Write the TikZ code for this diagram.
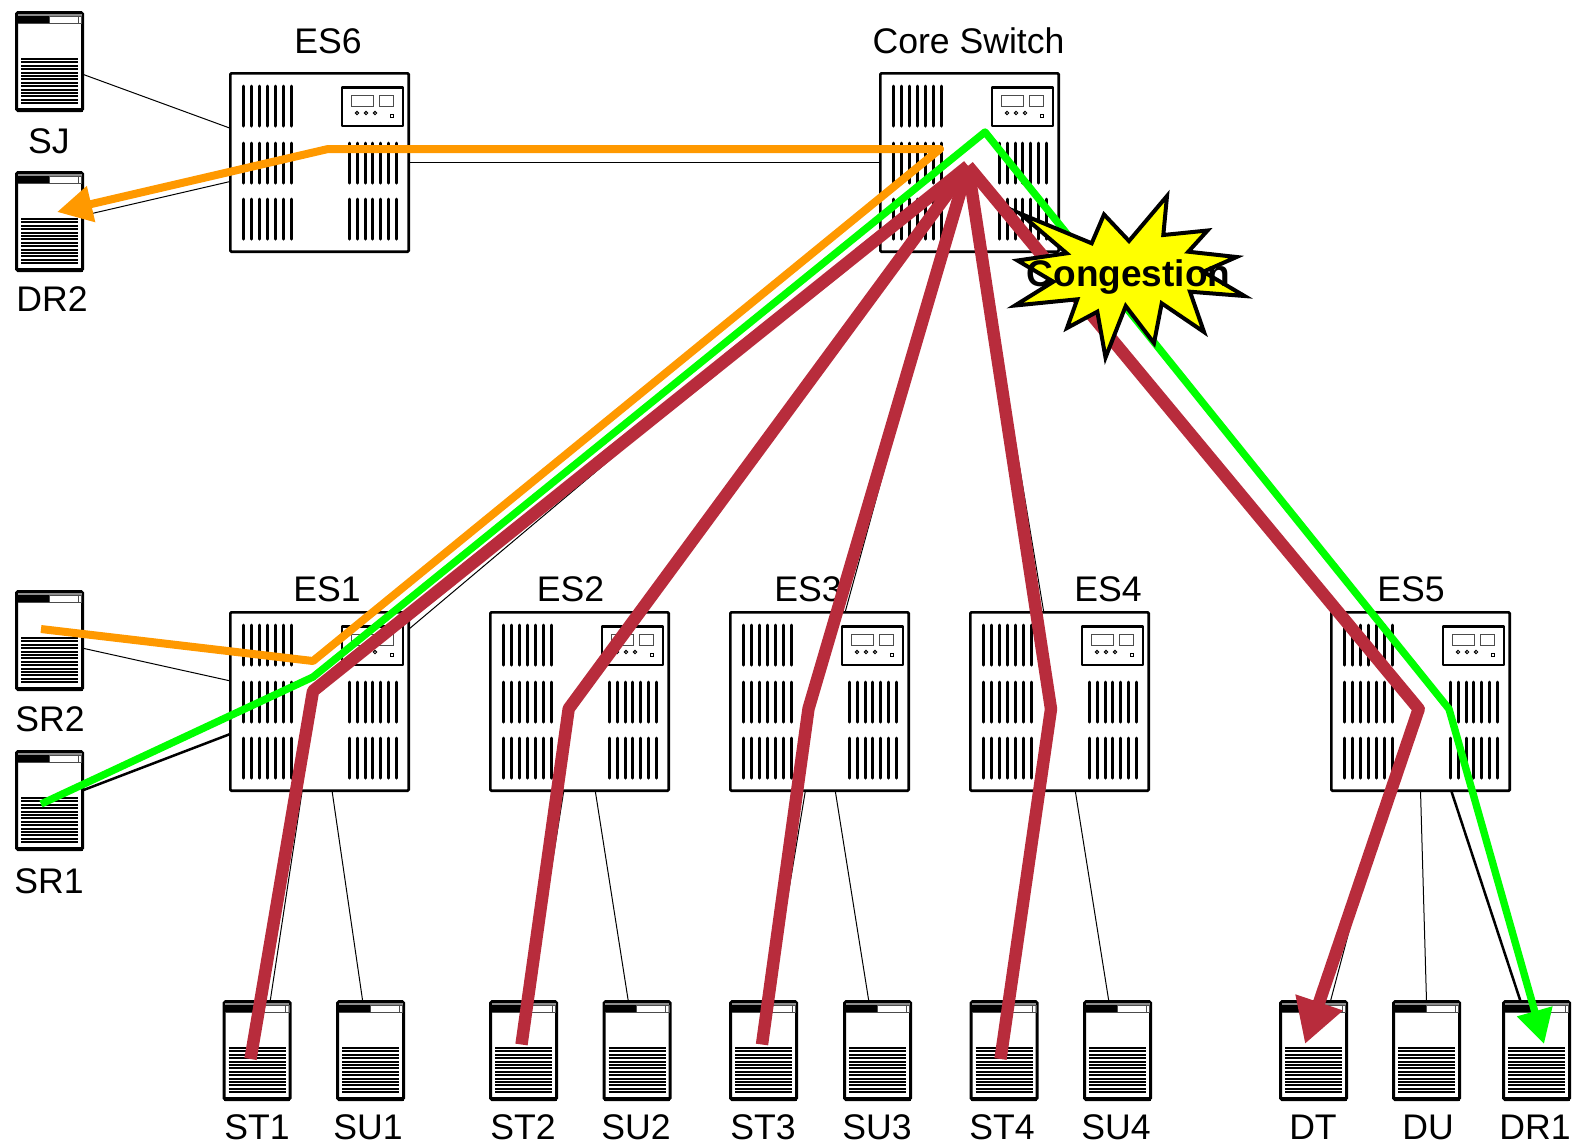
\documentclass[tikz,border=0pt]{standalone}
\usepackage{fontspec}
\usepackage{tikz}
\usetikzlibrary{arrows.meta}
\setmainfont{Liberation Sans}

% Face of a host, origin at its top left corner
\newcommand{\hostface}{
  \draw[line width=2pt] (1.5,98.5) -- (67.5,98.5);
  \fill[black!45] (2.5,2.5) rectangle (66.5,5);
  \fill[black] (2.5,5) rectangle (34,12);
  \draw[line width=0.4pt,black!70] (34,5.5) rectangle (66.5,12.5);
  \draw[line width=0.4pt,black!70] (2.5,12.5) -- (34,12.5);
  \draw[line width=0.4pt,black!70] (63,5.5) -- (63,12.5);
  \foreach \r in {0,...,13} {
    \draw[line width=1pt] (6,{48+3.4*\r}) -- (63,{48+3.4*\r});
  }
}
% Face of a switch, origin at its top left corner
\newcommand{\switchface}{
  \foreach \i in {0,...,6} {
    \foreach \r in {14,71,127} {
      \draw[slit] ({14+8*\i},\r) -- ({14+8*\i},\r+40);
    }
    \foreach \r in {71,127} {
      \draw[slit] ({120.5+7.8*\i},\r) -- ({120.5+7.8*\i},\r+40);
    }
  }
  \draw[line width=1.4pt,line join=round] (113,15.5) rectangle (174,54);
  \draw[line width=0.5pt,black!70] (122.5,23.5) rectangle (144,34.5);
  \draw[line width=0.5pt,black!70] (150,23.5) rectangle (164,34.5);
  \foreach \k in {128,137,146} {
    \draw[line width=0.5pt] (\k,41) circle (1.7);
  }
  \draw[line width=0.5pt] (161.5,42.5) rectangle (164.5,45.5);
}

\begin{document}
\begin{tikzpicture}[x=0.5pt,y=-0.5pt,
    hostbox/.style={draw,line width=1.5pt,rounded corners=0.8pt,inner sep=0pt,outer sep=0pt,
      minimum width=33pt,minimum height=49pt},
    switchbox/.style={draw,line width=1.35pt,rounded corners=0.5pt,inner sep=0pt,outer sep=0pt,
      minimum width=89.15pt,minimum height=89.15pt},
    slit/.style={line width=1.5pt,line cap=round},
    devlabel/.style={inner sep=0pt,font=\fontsize{17.8}{21}\selectfont},
    thinlink/.style={line width=0.5pt},
    heavylink/.style={line width=1.25pt},
    flow/.style={line join=round}]
\useasboundingbox (0,0) rectangle (1572,1147);
% Define flow colours
\definecolor{flowred}{RGB}{184,44,60}
\definecolor{floworange}{RGB}{255,153,0}
\definecolor{flowgreen}{RGB}{0,255,0}
\definecolor{burst}{RGB}{255,255,0}

% Draw hosts
\foreach \name/\x/\y in {SJ/15/11,DRtwo/15/171,SRtwo/15/590,SRone/15/750,
    STone/222.5/1000,SUone/336/1000,STtwo/489/1000,SUtwo/602.5/1000,
    STthree/729/1000,SUthree/843/1000,STfour/969.5/1000,SUfour/1083/1000,
    DT/1279/1000,DU/1392/1000,DRone/1502/1000} {
  \node[hostbox] (\name) at (\x+34.5,\y+50.5) {};
  \begin{scope}[shift={(\x,\y)}]
    \hostface
  \end{scope}
}

% Draw switches
\foreach \name/\x/\y in {ESsix/229/72,Core/879/72,ESone/229/611,EStwo/489/611,
    ESthree/729/611,ESfour/969/611,ESfive/1330/611} {
  \node[switchbox] (\name) at (\x+90.5,\y+90.5) {};
  \begin{scope}[shift={(\x,\y)}]
    \switchface
  \end{scope}
}

% Add names
\foreach \name/\x/\y/\txt in {lSJ/49/141/SJ,lDRtwo/52/299/DR2,lSRtwo/50/719/SR2,lSRone/49/881/SR1,
    lESsix/328/41/ES6,lCore/968.5/41/Core Switch,lESone/327/589/ES1,lEStwo/570.5/589/ES2,
    lESthree/808/589/ES3,lESfour/1108/589/ES4,lESfive/1411/589/ES5,
    lSTone/257/1127/ST1,lSUone/368/1127/SU1,lSTtwo/523/1127/ST2,lSUtwo/636/1127/SU2,
    lSTthree/763/1127/ST3,lSUthree/877/1127/SU3,lSTfour/1002/1127/ST4,lSUfour/1116/1127/SU4,
    lDT/1313/1127/DT,lDU/1428/1127/DU,lDRone/1535/1127/DR1} {
  \node[devlabel] (\name) at (\x,\y) {\txt};
}

% Draw links
\draw[thinlink] (SJ.-21) -- (ESsix.159);
\draw[thinlink] (DRtwo.10.7) -- (ESsix.192.8);
\draw[thinlink] (ESsix.east) -- (Core.west);
\draw[thinlink] (SRtwo.-13) -- (ESone.167);
\draw[heavylink] (SRone.17) -- (ESone.200.6);
\draw[thinlink] (ESone.39.6) -- (Core.218.7);
\draw[thinlink] (ESthree.74.4) -- (Core.254.5);
\draw[thinlink] (ESfour.100) -- (Core.279.5);
\draw[thinlink] (ESone.259.6) -- (STone.75.6);
\draw[thinlink] (ESone.-82) -- (SUone.99.6);
\draw[thinlink] (EStwo.260.9) -- (STtwo.82.7);
\draw[thinlink] (EStwo.-80.2) -- (SUtwo.100.7);
\draw[thinlink] (ESthree.261.5) -- (STthree.82.7);
\draw[thinlink] (ESthree.-80.8) -- (SUthree.100.7);
\draw[thinlink] (ESfour.260.5) -- (STfour.82.7);
\draw[thinlink] (ESfour.-80.5) -- (SUfour.100.7);
\draw[thinlink] (ESfive.249) -- (DT.71.9);
\draw[thinlink] (ESfive.south) -- (DU.north);
\draw[heavylink] (ESfive.-71.9) -- (DRone.108);

% Define flow points
\coordinate (apex) at (968,166);
\coordinate (oStart) at (41,629);
\coordinate (oTip) at (57,212);
\coordinate (gStart) at (41,804);
\coordinate (gTip) at (1544,1044);
\coordinate (rTip) at (1305,1044);

% Draw orange and green flows
\draw[flow,floworange,line width=4pt,-{Triangle[length=17.5pt,width=17.5pt]}]
  (oStart) -- (313,661) -- (940,149) -- (328,149) -- (oTip);
\draw[flow,flowgreen,line width=3.7pt,-{Triangle[length=17pt,width=17.5pt]}]
  (gStart) -- (313,677) -- (985,132) -- (1449,709) -- (gTip);

% Draw red flows
\draw[flow,flowred,line width=6.2pt] (250.5,1059) -- (313,691) -- (apex);
\draw[flow,flowred,line width=6.2pt] (521.5,1044.5) -- (568.7,708.7) -- (apex);
\draw[flow,flowred,line width=6.2pt] (762,1044.5) -- (808.5,708.7) -- (apex);
\draw[flow,flowred,line width=6.2pt] (1000.5,1059) -- (1051,709) -- (apex);
\draw[flow,flowred,line width=6.2pt,-{Triangle[length=22pt,width=23.5pt]}]
  (apex) -- (1418.7,709) -- (rTip);

% Draw the burst
\draw[line width=2pt,fill=burst,miter limit=10]
  (1167,196) -- (1163.3,235) -- (1207.5,230.5) -- (1188.3,251.7) -- (1236.5,257)
  -- (1203.3,271.7) -- (1244.5,296) -- (1190,291.7) -- (1204,332) -- (1161.7,303.3)
  -- (1154,343) -- (1125.7,306) -- (1105.5,357.5) -- (1097.3,311.7) -- (1067,328)
  -- (1077.3,299.3) -- (1015,305.5) -- (1053.3,281.7) -- (1017.5,260.5) -- (1066.7,253.3)
  -- (1020,213.5) -- (1091.7,243.3) -- (1104,214.5) -- (1129,241) -- cycle;
\node[inner sep=0pt,font=\fontsize{18.5}{22}\selectfont\bfseries] (congestion) at (1128.5,277) {Congestion};
\end{tikzpicture}
\end{document}
